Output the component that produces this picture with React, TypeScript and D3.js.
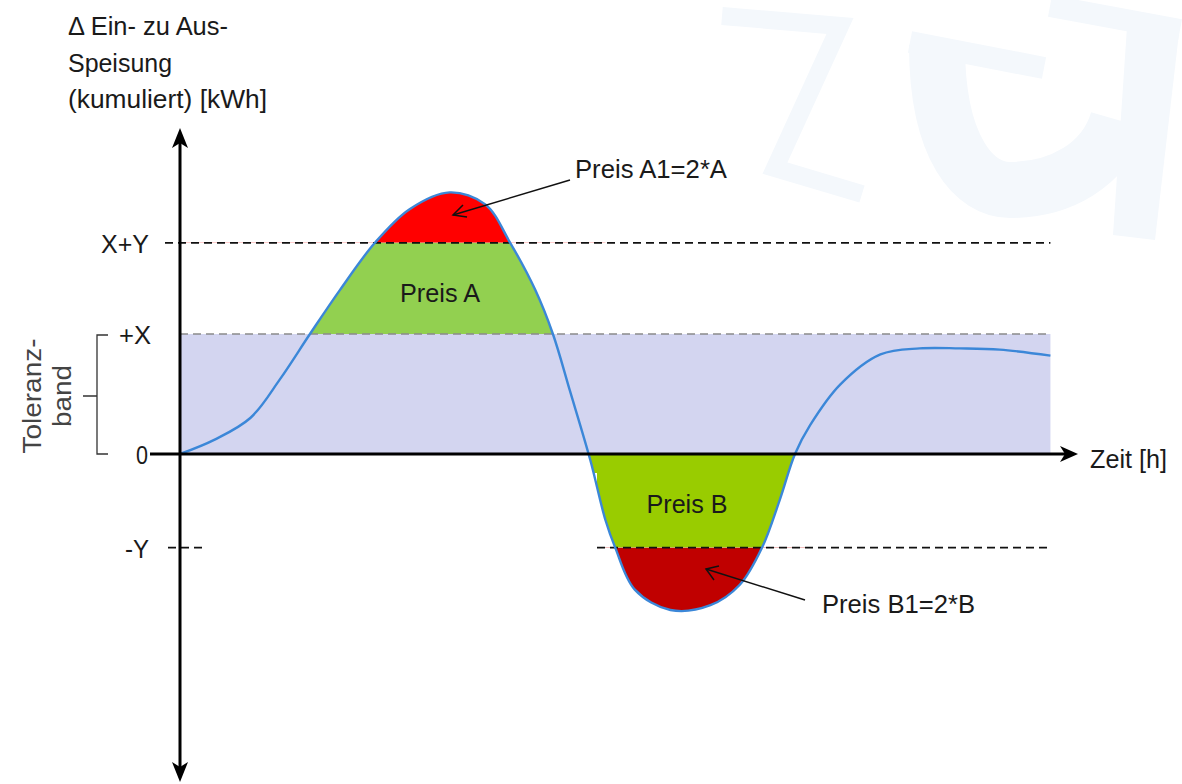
import React from "react";
import * as d3 from "d3";

// ---- data ----
const timeH = [0, 0.39, 0.79, 1.12, 1.46, 1.8, 2.19, 2.58, 3.03, 3.43, 3.71, 3.99, 4.19, 4.38, 4.61, 4.78, 4.89, 5.11, 5.51, 5.96, 6.29, 6.54, 6.74, 6.91, 7.08, 7.42, 7.87, 8.31, 8.76, 9.21, 9.78];
const deltaKWh = [0, 0.12, 0.3, 0.62, 1.0, 1.37, 1.76, 2.04, 2.18, 2.08, 1.76, 1.37, 1.0, 0.53, -0.05, -0.55, -0.78, -1.13, -1.3, -1.26, -1.09, -0.78, -0.38, 0, 0.24, 0.58, 0.83, 0.88, 0.88, 0.87, 0.82];
const levelLabels = ["X+Y", "+X", "0", "-Y"];
const levelValues = [1.76, 1.0, 0, -0.78];
const yAxisTitle = ["Δ Ein- zu Aus-", "Speisung", "(kumuliert)  [kWh]"];
const xAxisTitle = "Zeit [h]";
const bandTitle = ["Toleranz-", "band"];
const regionLabels = ["Preis A", "Preis B"];
const calloutLabels = ["Preis A1=2*A", "Preis B1=2*B"];

const W = 1182;
const H = 784;
const FONT = "'Liberation Sans', Arial, sans-serif";
const FS = 26;

export default function App() {
  const x = d3.scaleLinear().domain([0, 10]).range([180, 1070]);
  const y = d3.scaleLinear().domain([-2.7, 2.7]).range([778, 130]);
  const pts: [number, number][] = timeH.map((t, i) => [t, deltaKWh[i]]);
  const [XY, Xv, Z, mY] = levelValues;
  const xEnd = 9.78;

  const line = d3
    .line<[number, number]>()
    .x((d) => x(d[0]))
    .y((d) => y(d[1]))
    .curve(d3.curveCatmullRom.alpha(0.5));

  const areaTo = (base: number, sub: [number, number][]) =>
    d3
      .area<[number, number]>()
      .x((d) => x(d[0]))
      .y0(y(base))
      .y1((d) => y(d[1]))
      .curve(d3.curveCatmullRom.alpha(0.5))(sub) as string;

  const humpA = pts.filter((p) => p[0] <= 4.8);
  const humpB = pts.filter((p) => p[0] >= 4.3 && p[0] <= 7.2);

  const ax = x(0);
  const ay = y(0);
  const wm = "#f4f8fc";

  return (
    <svg width={W} height={H} style={{ position: "absolute", left: 0, top: 0, background: "#fff" }} fontFamily={FONT}>
      <defs>
        <clipPath id="clipA">
          <rect x={0} y={y(XY)} width={W} height={y(Xv) - y(XY)} />
        </clipPath>
        <clipPath id="clipA1">
          <rect x={0} y={0} width={W} height={y(XY)} />
        </clipPath>
        <clipPath id="clipB">
          <rect x={0} y={y(Z)} width={W} height={19} />
          <rect x={597} y={y(Z)} width={W} height={y(mY) - y(Z)} />
        </clipPath>
        <clipPath id="clipB1">
          <rect x={597} y={y(mY)} width={W} height={H} />
        </clipPath>
      </defs>

      {/* watermark */}
      <g fill="none" stroke={wm} strokeLinejoin="miter">
        <polyline points="722,16 840,26 775,168 862,194" strokeWidth={18} />
        <path d="M910,42 L1044,68" strokeWidth={22} />
        <path d="M937,45 C937,150 975,190 1010,190 C1060,190 1105,165 1118,120" strokeWidth={56} />
        <path d="M1050,6 L1180,30" strokeWidth={22} />
      </g>
      <polygon points="1127,27 1179,33 1155,240 1113,235" fill={wm} />

      {/* tolerance band */}
      <rect x={ax} y={y(Xv)} width={x(xEnd) - ax} height={y(Z) - y(Xv)} fill="#d3d5f0" />

      {/* fills */}
      <path d={areaTo(Xv, humpA)} fill="#92d050" clipPath="url(#clipA)" />
      <path d={areaTo(XY, humpA)} fill="#ff0000" clipPath="url(#clipA1)" />
      <path d={areaTo(Z, humpB)} fill="#99cc00" clipPath="url(#clipB)" />
      <path d={areaTo(mY, humpB)} fill="#c00000" clipPath="url(#clipB1)" />

      {/* level lines */}
      <line x1={165} x2={x(xEnd)} y1={y(XY)} y2={y(XY)} stroke="#111" strokeWidth={1.8} strokeDasharray="8,5" />
      <line x1={ax} x2={x(xEnd)} y1={y(Xv)} y2={y(Xv)} stroke="#8a8a8a" strokeWidth={1.5} strokeDasharray="8,5" />
      <line x1={168} x2={207} y1={y(mY)} y2={y(mY)} stroke="#111" strokeWidth={1.8} strokeDasharray="8,5" />
      <line x1={597} x2={x(xEnd)} y1={y(mY)} y2={y(mY)} stroke="#111" strokeWidth={1.8} strokeDasharray="8,5" />

      {/* curve */}
      <path d={line(pts) as string} fill="none" stroke="#3b87d8" strokeWidth={2.4} />

      {/* axes */}
      <line x1={150} x2={x(10) - 4} y1={ay} y2={ay} stroke="#000" strokeWidth={3} />
      <polygon points={`${x(10) + 8},${ay} ${x(10) - 10},${ay - 8} ${x(10) - 5},${ay} ${x(10) - 10},${ay + 8}`} fill="#000" />
      <line x1={ax} x2={ax} y1={y(2.7) + 8} y2={y(-2.7) - 6} stroke="#000" strokeWidth={3} />
      <polygon points={`${ax},${y(2.7) - 2} ${ax - 8},${y(2.7) + 18} ${ax},${y(2.7) + 13} ${ax + 8},${y(2.7) + 18}`} fill="#000" />
      <polygon points={`${ax},${y(-2.7) + 4} ${ax - 8},${y(-2.7) - 16} ${ax},${y(-2.7) - 11} ${ax + 8},${y(-2.7) - 16}`} fill="#000" />

      {/* level labels */}
      {levelLabels.map((l, i) => (
        <text
          key={l}
          x={l === "0" ? 148 : l === "+X" ? 151 : 149}
          y={y(levelValues[i]) + 10}
          fontSize={FS}
          textAnchor="end"
          fill="#1a1a1a"
          textLength={[48, 32, 12, 24][i]}
          lengthAdjust="spacingAndGlyphs"
        >
          {l}
        </text>
      ))}

      {/* y title */}
      {yAxisTitle.map((t, i) => (
        <text key={t} x={68} y={35 + i * 36.5} fontSize={FS} fill="#1a1a1a" textLength={[160, 104, 199][i]} lengthAdjust="spacingAndGlyphs">
          {t}
        </text>
      ))}

      {/* x title */}
      <text x={1090} y={468} fontSize={FS} fill="#1a1a1a" textLength={77} lengthAdjust="spacingAndGlyphs">
        {xAxisTitle}
      </text>

      {/* tolerance band bracket */}
      <path d={`M108,${y(Xv) + 1} H97 V${y(Z)} H108 M83,${(y(Xv) + y(Z)) / 2 + 2} H97`} fill="none" stroke="#333" strokeWidth={1.3} />
      <text transform={`translate(41,${(y(Xv) + y(Z)) / 2 + 2}) rotate(-90)`} fontSize={FS} textAnchor="middle" fill="#444" textLength={115} lengthAdjust="spacingAndGlyphs">
        {bandTitle[0]}
      </text>
      <text transform={`translate(71,${(y(Xv) + y(Z)) / 2 + 2}) rotate(-90)`} fontSize={FS} textAnchor="middle" fill="#444" textLength={62} lengthAdjust="spacingAndGlyphs">
        {bandTitle[1]}
      </text>

      {/* region labels */}
      <text x={440} y={302} fontSize={FS} textAnchor="middle" fill="#1a1a1a" textLength={80} lengthAdjust="spacingAndGlyphs">
        {regionLabels[0]}
      </text>
      <text x={687} y={513} fontSize={FS} textAnchor="middle" fill="#1a1a1a" textLength={81} lengthAdjust="spacingAndGlyphs">
        {regionLabels[1]}
      </text>

      {/* callouts */}
      <text x={575} y={178} fontSize={FS} fill="#1a1a1a" textLength={152} lengthAdjust="spacingAndGlyphs">
        {calloutLabels[0]}
      </text>
      <text x={822} y={613} fontSize={FS} fill="#1a1a1a" textLength={153} lengthAdjust="spacingAndGlyphs">
        {calloutLabels[1]}
      </text>
      <g stroke="#111" strokeWidth={1.5} fill="none">
        <line x1={570} y1={180} x2={453} y2={215} />
        <polyline points="463,205 453,215 467,217" />
        <line x1={805} y1={600} x2={706} y2={569} />
        <polyline points="719,566 706,569 714,580" />
      </g>
    </svg>
  );
}
